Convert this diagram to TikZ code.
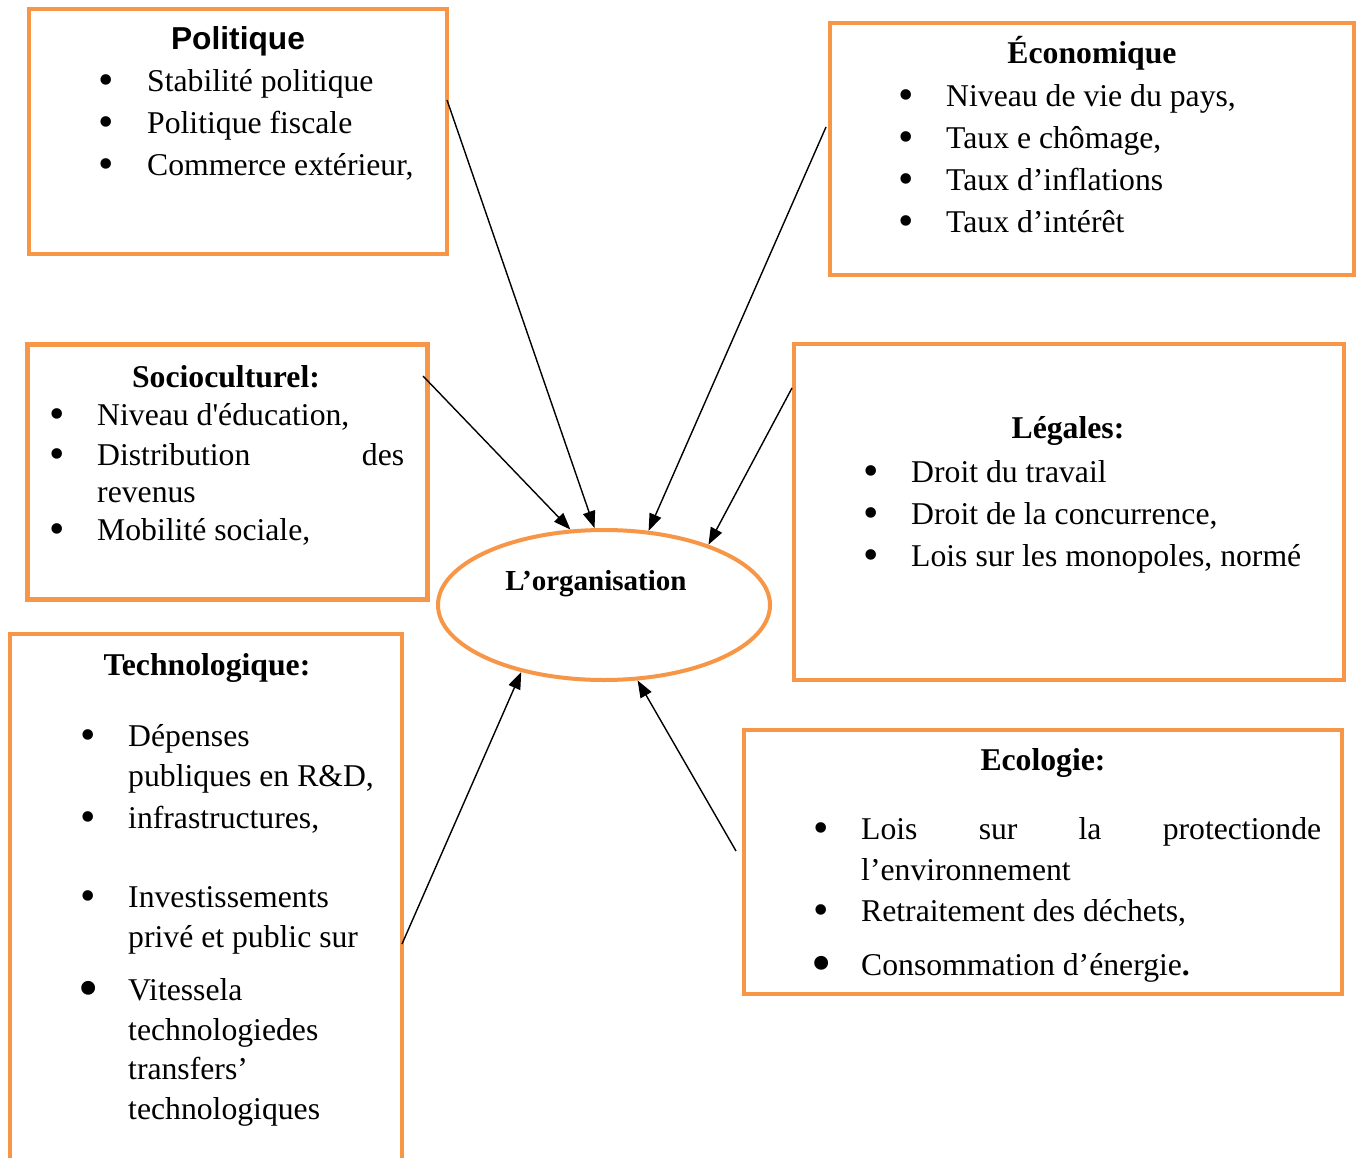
\documentclass[tikz,border=0pt]{standalone}
\usepackage{fontspec}
\setmainfont{Liberation Serif}[Ligatures=TeXOff]
\newfontfamily\arialfont{Liberation Sans}
\usetikzlibrary{arrows.meta,shapes.geometric}
\definecolor{boxorange}{HTML}{F79646}
\begin{document}
\begin{tikzpicture}[x=1pt,y=-1pt,
  frame/.style={draw=boxorange, line width=4.5pt, rectangle, inner sep=0pt},
  ttl/.style={inner sep=0pt, anchor=base, font=\fontsize{31.7}{38}\selectfont\bfseries},
  item/.style={inner sep=0pt, anchor=base west, font=\fontsize{31.7}{38}\selectfont},
  bul/.style={inner sep=0pt, anchor=base, yshift=-3pt, font=\fontsize{44}{50}\selectfont},
  bigbul/.style={inner sep=0pt, anchor=base, yshift=-7pt, font=\fontsize{58}{64}\selectfont},
  link/.style={line width=1.4pt, -{Triangle[length=17pt,width=12.5pt]}}]
\fill[white] (0,0) rectangle (1362,1158);
\useasboundingbox (0,0) rectangle (1362,1158);

% ---------- Politique ----------
\node[frame, minimum width=418pt, minimum height=245pt] (pol) at (238,131.5) {};
\node[ttl, font=\arialfont\fontsize{31.7}{38}\selectfont\bfseries] (polt) at (238,50) {Politique};
\node[bul] (polb1) at (106,92) {•};
\node[bul] (polb2) at (106,134) {•};
\node[bul] (polb3) at (106,176) {•};
\node[item] (pol1) at (147,92) {Stabilité politique};
\node[item] (pol2) at (147,134) {Politique fiscale};
\node[item] (pol3) at (147,176) {Commerce extérieur,};

% ---------- Economique ----------
\node[frame, minimum width=524pt, minimum height=252pt] (eco) at (1092,149) {};
\node[ttl] (ecot) at (1092,64) {Économique};
\node[bul] (ecob1) at (906,107) {•};
\node[bul] (ecob2) at (906,149) {•};
\node[bul] (ecob3) at (906,191) {•};
\node[bul] (ecob4) at (906,233) {•};
\node[item] (eco1) at (946,107) {Niveau de vie du pays,};
\node[item] (eco2) at (946,149) {Taux e chômage,};
\node[item] (eco3) at (946,191) {Taux d’inflations};
\node[item] (eco4) at (946,233) {Taux d’intérêt};

% ---------- Socioculturel ----------
\node[frame, minimum width=400pt, minimum height=255pt] (soc) at (227.5,472) {};
\node[ttl] (soct) at (226,387) {Socioculturel:};
\node[bul] (socb1) at (57,425) {•};
\node[bul] (socb2) at (57,465) {•};
\node[bul] (socb3) at (57,540) {•};
\node[item] (soc1) at (97,425) {Niveau d'éducation,};
\node[item] (soc2) at (97,465) {\makebox[307pt][s]{Distribution\hfill des}};
\node[item] (soc2b) at (97,502) {revenus};
\node[item] (soc3) at (97,540) {Mobilité sociale,};

% ---------- Legales ----------
\node[frame, minimum width=550pt, minimum height=336pt] (leg) at (1069,512) {};
\node[ttl] (legt) at (1068,438) {Légales:};
\node[bul] (legb1) at (871,482) {•};
\node[bul] (legb2) at (871,524) {•};
\node[bul] (legb3) at (871,566) {•};
\node[item] (leg1) at (911,482) {Droit du travail};
\node[item] (leg2) at (911,524) {Droit de la concurrence,};
\node[item] (leg3) at (911,566) {Lois sur les monopoles, normé};

% ---------- Technologique ----------
\node[frame, minimum width=392pt, minimum height=540pt] (tec) at (206,904) {};
\node[ttl] (tect) at (207,675) {Technologique:};
\node[bul] (tecb1) at (88,746) {•};
\node[bul] (tecb2) at (88,828) {•};
\node[bul] (tecb3) at (88,907) {•};
\node[bigbul] (tecb4) at (89,1000) {•};
\node[item] (tec1) at (128,746) {Dépenses};
\node[item] (tec1b) at (128,786) {publiques en R\&D,};
\node[item] (tec2) at (128,828) {infrastructures,};
\node[item] (tec3) at (128,907) {Investissements};
\node[item] (tec3b) at (128,947) {privé et public sur};
\node[item] (tec4) at (128,1000) {Vitessela};
\node[item] (tec4b) at (128,1040) {technologiedes};
\node[item] (tec4c) at (128,1079) {transfers’};
\node[item] (tec4d) at (128,1119) {technologiques};

% ---------- Ecologie ----------
\node[frame, minimum width=598pt, minimum height=264pt] (ecl) at (1043,862) {};
\node[ttl] (eclt) at (1043,770) {Ecologie:};
\node[bul] (eclb1) at (821,839) {•};
\node[bul] (eclb2) at (821,921) {•};
\node[bigbul] (eclb3) at (822,975) {•};
\node[item] (ecl1) at (861,839) {\makebox[460pt][s]{Lois\hfill sur\hfill la\hfill protectionde}};
\node[item] (ecl1b) at (861,880) {l’environnement};
\node[item] (ecl2) at (861,921) {Retraitement des déchets,};
\node[item] (ecl3) at (861,975) {Consommation d’énergie\textbf{.}};

% ---------- Organisation ----------
\node[ellipse, draw=boxorange, line width=4pt, minimum width=332pt, minimum height=150pt, inner sep=0pt] (org) at (604,605) {};
\node[inner sep=0pt, anchor=base, font=\fontsize{29}{34}\selectfont\bfseries] (orgt) at (596,590) {L’organisation};

% ---------- Connectors ----------
\coordinate (polout) at (447,100);
\coordinate (socout) at (423,376);
\coordinate (ecoout) at (826,127);
\coordinate (legout) at (792,388);
\coordinate (tecout) at (402,944);
\coordinate (eclout) at (736,851);
\draw[link] (polout) -- (org.97);
\draw[link] (socout) -- (org.114);
\draw[link] (ecoout) -- (org.59);
\draw[link] (legout) -- (org.30);
\draw[link] (tecout) -- (org.219);
\draw[link] (eclout) -- (org.294);
\end{tikzpicture}
\end{document}
